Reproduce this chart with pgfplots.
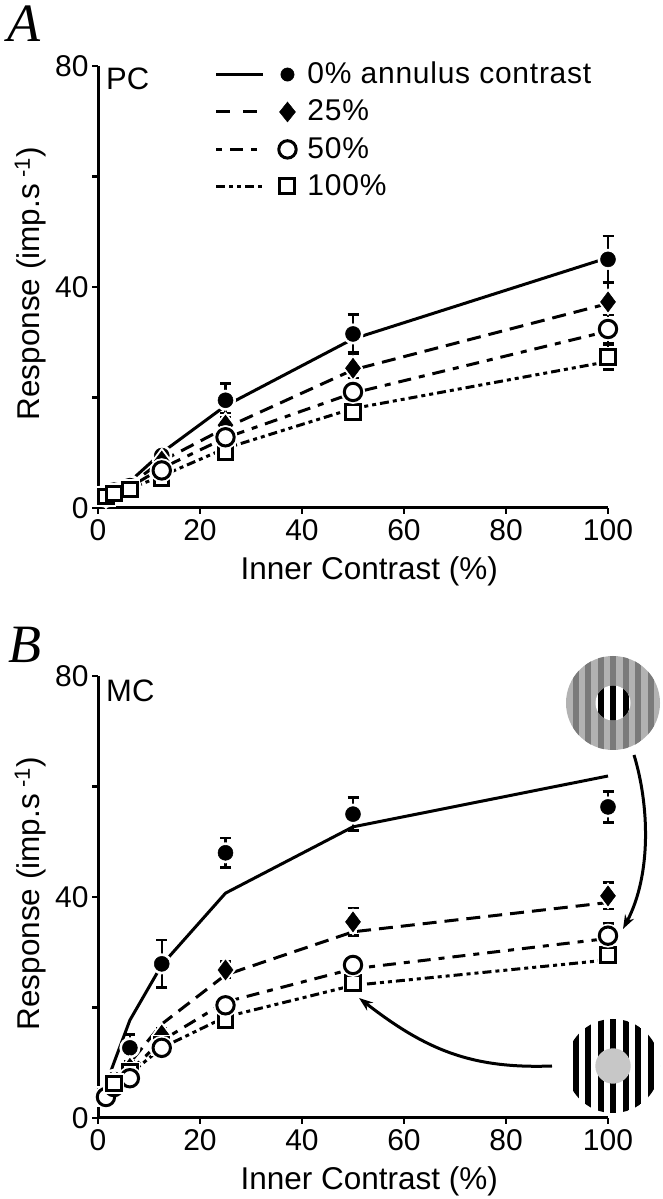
\documentclass[border=0pt]{standalone}
\usepackage{pgfplots}
\usepackage{pgfplotstable}
\usepackage{fontspec}
\pgfplotsset{compat=1.18}
\usetikzlibrary{arrows.meta}
\setmainfont{Liberation Sans}
\newfontfamily\panelfont{Liberation Serif}
\newfontfamily\legfont[LetterSpace=2.5]{Liberation Sans}
\newcommand\lab{\fontsize{30}{36}\selectfont}
\newcommand\axlab{\fontsize{31.5}{36}\selectfont}

% x, then line / mark / error for each annulus contrast
\pgfplotstableread{
x l0 m0 e0 l25 m25 e25 l50 m50 e50 l100 m100 e100
1.56 2.3 2.3 .3 2.2 2.2 .3 2.2 2.2 .3 2.1 2.1 .3
3.125 3.2 3.0 .4 3 3 .4 2.9 2.8 .4 2.7 2.6 .3
6.25 4.8 4.2 .6 4.2 3.9 .5 3.8 3.6 .5 3.5 3.3 .4
12.5 10 9.5 1.3 8.5 8.5 1.1 7.2 6.8 1 5.8 5.3 .8
25 18.5 19.5 3 14.5 15 2.2 12.7 12.8 1.8 10.8 10 1.4
50 30.6 31.5 3.5 25 25.3 2.8 20.8 21 2.5 18 17.4 1.7
100 45.3 45 4.2 37 37.3 3.5 32 32.4 2.5 26.5 27.3 2.2
}\pcdata
\pgfplotstableread{
x l0 m0 e0 l25 m25 e25 l50 m50 e50 l100 m100 e100
1.56 6 4 1 4.5 4 .8 4 3.8 .6 4 3.9 .5
3.125 10 7 1.2 6.5 6.3 1 5.5 5.6 .8 5.5 6.2 .6
6.25 17.7 12.7 2.4 10 9 1.2 8.5 7.2 1 8 8.3 1
12.5 27.7 27.9 4.3 17 15 1.2 14 12.7 1 12.7 13.2 .8
25 40.7 48 2.7 25.9 26.8 1.5 21 20.4 1.6 18.3 17.7 1.7
50 52.7 55 3 33.7 35.5 2.5 27 27.7 1.5 24 24.4 1.8
100 61.9 56.3 2.8 39 40.2 2.4 32.5 33 2.2 28.6 29.5 1.8
}\mcdata

\tikzset{
  s0/.style={solid},
  s25/.style={dash pattern=on 14pt off 8pt},
  s50/.style={dash pattern=on 13pt off 8pt on 6pt off 8pt},
  s100/.style={dash pattern=on 9pt off 4pt on 4pt off 4pt on 4pt off 4pt},
  m0/.style={mark=*,mark size=7.5pt,mark options={solid,fill=black,draw=black,line width=.5pt}},
  m25/.style={mark=diamond*,mark size=10pt,mark options={solid,fill=black,draw=black,line width=.5pt}},
  m50/.style={mark=*,mark size=8.7pt,mark options={solid,fill=white,draw=black,line width=3pt}},
  m100/.style={mark=square*,mark size=7.2pt,mark options={solid,fill=white,draw=black,line width=3pt}},
  h0/.style={mark=*,mark size=9.5pt,mark options={solid,fill=white,draw=white,line width=2pt}},
  h25/.style={mark=diamond*,mark size=12pt,mark options={solid,fill=white,draw=white,line width=2pt}},
  h50/.style={mark=*,mark size=11pt,mark options={solid,fill=white,draw=white,line width=2pt}},
  h100/.style={mark=square*,mark size=9.5pt,mark options={solid,fill=white,draw=white,line width=2pt}},
}
\pgfplotsset{
  panel/.style={
    scale only axis,width=510pt,height=442pt,
    xmin=0,xmax=100,ymin=0,ymax=80,
    axis x line=bottom,axis y line=left,
    axis line style={-,line width=3pt},
    every tick/.style={black,line width=2.5pt},
    tick align=outside,major tick length=6pt,minor tick length=6pt,
    xtick={0,20,40,60,80,100},ytick={0,40,80},minor ytick={20,60},
    tick label style={font=\lab},
    xticklabel style={yshift=-2pt},
    /pgf/number format/assume math mode=true,
    clip=false,
    xlabel={Inner Contrast (\%)},
    ylabel={Response (imp.s\textsuperscript{ -1})},
    every axis y label/.style={font=\axlab,at={(axis description cs:-0.133,0.507)},rotate=90,anchor=center},
    every axis x label/.style={font=\axlab,at={(axis description cs:0.532,-0.1425)},anchor=center},
  },
}
\newcommand\serieslines[1]{%
  \addplot[forget plot,no marks,line width=3pt,s0] table[x=x,y=l0]{#1};
  \addplot[forget plot,no marks,line width=3pt,s25] table[x=x,y=l25]{#1};
  \addplot[forget plot,no marks,line width=3pt,s50] table[x=x,y=l50]{#1};
  \addplot[forget plot,no marks,line width=3pt,s100] table[x=x,y=l100]{#1};
}
\newcommand\seriesmarks[3][]{%
  \addplot[forget plot,only marks,h#3,#1] table[x=x,y=m#3]{#2};
  \addplot[forget plot,only marks,m#3,#1,
    error bars/.cd,y dir=both,y explicit,
    error bar style={line width=2.5pt,solid},
    error mark options={rotate=90,mark size=5.5pt,line width=2.5pt}]
    table[x=x,y=m#3,y error=e#3]{#2};
}

\begin{document}
\begin{tikzpicture}
\useasboundingbox (0pt,0pt) rectangle (663pt,1199pt);

\begin{axis}[panel,at={(98pt,691pt)},anchor=south west,
    legend cell align=left,
    legend style={draw=none,fill=none,font=\legfont\lab,inner sep=0pt,
      at={(0.229,1.01)},anchor=north west,
      row sep=15pt,nodes={inner sep=0pt,anchor=base west}},
  ]
  \serieslines{\pcdata}
  \seriesmarks{\pcdata}{0}
  \seriesmarks{\pcdata}{25}
  \seriesmarks{\pcdata}{50}
  \seriesmarks{\pcdata}{100}
  \seriesmarks[restrict x to domain=10:110]{\pcdata}{50}
  \addlegendimage{legend image code/.code={
    \draw[line width=3pt,s0] (0pt,9pt) -- (47pt,9pt);
    \fill (71pt,9pt) circle[radius=6.7pt];
    \path[draw=none] (0pt,9pt) -- (91pt,9pt);}}
  \addlegendentry{0\% annulus contrast}
  \addlegendimage{legend image code/.code={
    \draw[line width=3pt,dash pattern=on 14pt off 13pt] (0pt,9pt) -- (47pt,9pt);
    \fill (71pt,19pt) -- (79pt,9pt) -- (71pt,-1pt) -- (63pt,9pt) -- cycle;
    \path[draw=none] (0pt,9pt) -- (91pt,9pt);}}
  \addlegendentry{25\%}
  \addlegendimage{legend image code/.code={
    \draw[line width=3pt,dash pattern=on 6pt off 8pt on 13pt off 8pt] (0pt,9pt) -- (47pt,9pt);
    \draw[line width=3pt] (71pt,9pt) circle[radius=8.7pt];
    \path[draw=none] (0pt,9pt) -- (91pt,9pt);}}
  \addlegendentry{50\%}
  \addlegendimage{legend image code/.code={
    \draw[line width=3pt,s100] (0pt,9pt) -- (47pt,9pt);
    \draw[line width=3pt] (63pt,2pt) rectangle (78pt,17pt);
    \path[draw=none] (0pt,9pt) -- (91pt,9pt);}}
  \addlegendentry{100\%}
\end{axis}

\begin{axis}[panel,at={(98pt,81pt)},anchor=south west]
  \serieslines{\mcdata}
  \seriesmarks{\mcdata}{0}
  \seriesmarks{\mcdata}{25}
  \seriesmarks{\mcdata}{100}
  \seriesmarks{\mcdata}{50}
  \seriesmarks[restrict x to domain=2.5:4]{\mcdata}{100}
\end{axis}

% panel letters and cell class labels
\node[font=\panelfont\itshape\fontsize{54}{54}\selectfont,anchor=center] at (24pt,1175pt) {A};
\node[font=\panelfont\itshape\fontsize{54}{54}\selectfont,anchor=center] at (25pt,554pt) {B};
\node[font=\fontsize{31}{31}\selectfont,anchor=west,inner sep=0pt] at (106pt,1120pt) {PC};
\node[font=\fontsize{31}{31}\selectfont,anchor=west,inner sep=0pt] at (106pt,508pt) {MC};

\begin{scope}[x=1pt,y=1pt]
% stimulus: grey annulus grating round a black and white centre
\begin{scope}
  \clip (613,496) circle[radius=47];
  \fill[black!30] (560,440) rectangle (670,550);
  \foreach \k in {-4,...,4}
    \fill[black!52] ({613+12.5*\k-3},440) rectangle ({613+12.5*\k+3},550);
\end{scope}
\begin{scope}
  \clip (613,496) circle[radius=17.5];
  \fill[white] (590,470) rectangle (640,520);
  \foreach \k in {-2,...,2}
    \fill[black] ({613+12.5*\k-3},470) rectangle ({613+12.5*\k+3},520);
\end{scope}
% stimulus: black and white grating with a grey centre
\begin{scope}
  \clip (613,133) circle[radius=47];
  \foreach \k in {-4,...,4}
    \fill[black] ({613+12.5*\k-3},80) rectangle ({613+12.5*\k+3},190);
\end{scope}
\fill[black!22] (613,133) circle[radius=17.7];

\draw[line width=3pt,-{Stealth[length=14pt,width=10pt]}] (634,444) .. controls (649,395) and (652,325) .. (623,270);
\draw[line width=3pt,-{Stealth[length=14pt,width=10pt]}] (552,133) .. controls (470,130) and (425,150) .. (359,201);
\end{scope}
\end{tikzpicture}
\end{document}
